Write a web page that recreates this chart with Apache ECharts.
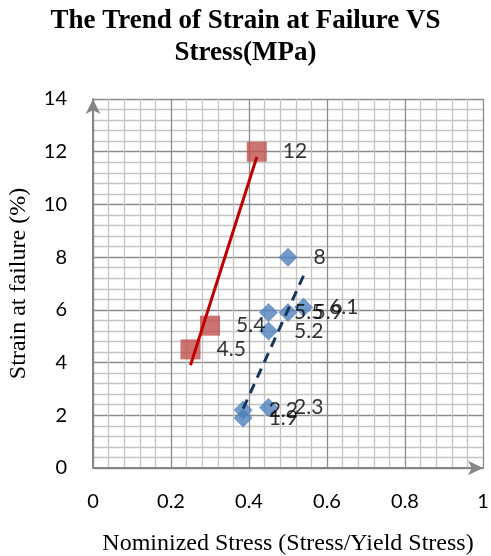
<!DOCTYPE html>
<html>
<head>
<meta charset="utf-8">
<script src="https://cdn.jsdelivr.net/npm/echarts@6/dist/echarts.min.js"></script>
<style>
html,body{margin:0;padding:0;background:#fff;}
#chart{width:491px;height:556px;}
</style>
</head>
<body>
<div id="chart"></div>
<script>
// Data
var redX = [0.25, 0.30, 0.42];
var redY = [4.5, 5.4, 12];
var redLabels = ['4.5', '5.4', '12'];
var redTrend = [[0.25, 3.9], [0.42, 11.8]];

var blueX = [0.50, 0.45, 0.50, 0.54, 0.45, 0.385, 0.385, 0.45];
var blueY = [8.0, 5.9, 5.9, 6.1, 5.2, 2.2, 1.9, 2.3];
var blueLabels = ['8', '5.5', '5.9', '6.1', '5.2', '2.2', '1.9', '2.3'];
var blueTrend = [[0.385, 2.25], [0.543, 7.4]];

var xTicks = ['0', '0.2', '0.4', '0.6', '0.8', '1'];
var yTicks = ['0', '2', '4', '6', '8', '10', '12', '14'];

function pairs(xs, ys) { return xs.map(function (x, i) { return [x, ys[i]]; }); }

var chart = echarts.init(document.getElementById('chart'));
var labelFont = { fontFamily: 'Lato', fontSize: 21, color: '#000' };
chart.setOption({
  animation: false,
  title: {
    text: 'The Trend of Strain at Failure VS\nStress(MPa)',
    left: 'center',
    top: 0,
    textStyle: { fontFamily: 'Liberation Serif', fontWeight: 'bold', fontSize: 27, lineHeight: 32, color: '#000' }
  },
  grid: { left: 93, right: 8, top: 99, bottom: 88, outerBoundsMode: 'none', containLabel: false },
  xAxis: {
    type: 'value', min: 0, max: 1, interval: 0.2,
    name: 'Nominized Stress (Stress/Yield Stress)',
    nameLocation: 'middle', nameGap: 64,
    nameTextStyle: { fontFamily: 'Liberation Serif', fontSize: 24, color: '#000' },
    axisLine: { show: true, symbol: ['none', 'arrow'], symbolSize: [11, 15], lineStyle: { color: '#868686', width: 2 } },
    axisTick: { show: false },
    axisLabel: { margin: 24, formatter: function (v) { return xTicks[Math.round(v / 0.2)]; }, fontFamily: 'Lato', fontSize: 20, color: '#000' },
    splitLine: { show: true, lineStyle: { color: '#8c8c8c', width: 1.3 } },
    minorTick: { show: false, splitNumber: 5 },
    minorSplitLine: { show: true, lineStyle: { color: '#c4c4c4', width: 1.3 } }
  },
  yAxis: {
    type: 'value', min: 0, max: 14, interval: 2,
    name: 'Strain at failure (%)',
    nameLocation: 'middle', nameGap: 62,
    nameTextStyle: { fontFamily: 'Liberation Serif', fontSize: 24, color: '#000' },
    axisLine: { show: true, symbol: ['none', 'arrow'], symbolSize: [11, 15], lineStyle: { color: '#868686', width: 2 } },
    axisTick: { show: false },
    axisLabel: { margin: 26, formatter: function (v) { return yTicks[Math.round(v / 2)]; }, fontFamily: 'Lato', fontSize: 20, color: '#000' },
    splitLine: { show: true, lineStyle: { color: '#8c8c8c', width: 1.3 } },
    minorTick: { show: false, splitNumber: 5 },
    minorSplitLine: { show: true, lineStyle: { color: '#c4c4c4', width: 1.3 } }
  },
  series: [
    {
      type: 'scatter', data: pairs(redX, redY), symbol: 'rect', symbolSize: 20,
      itemStyle: { color: '#C0504D' }, z: 3,
      label: Object.assign({ show: true, position: 'right', distance: 16,
        formatter: function (p) { return redLabels[p.dataIndex]; } }, labelFont)
    },
    {
      type: 'scatter', data: pairs(blueX, blueY), symbol: 'diamond', symbolSize: 19,
      itemStyle: { color: '#4F81BD' }, z: 3,
      label: Object.assign({ show: true, position: 'right', distance: 16,
        formatter: function (p) { return blueLabels[p.dataIndex]; } }, labelFont)
    },
    {
      type: 'line', data: redTrend, symbol: 'none', z: 5,
      lineStyle: { color: '#C00000', width: 3 }
    },
    {
      type: 'line', data: blueTrend, symbol: 'none', z: 5,
      lineStyle: { color: '#17365D', width: 3, type: [10, 7] }
    }
  ]
});
</script>
</body>
</html>
